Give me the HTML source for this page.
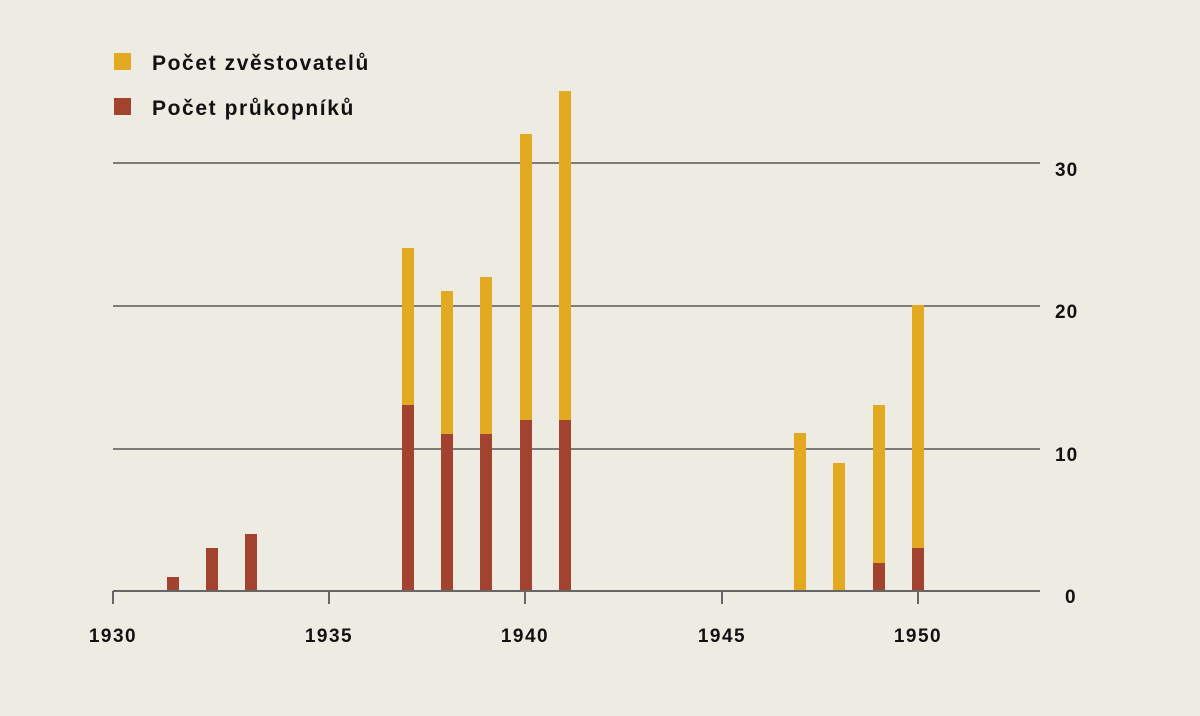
<!DOCTYPE html>
<html><head><meta charset="utf-8"><style>
html,body{margin:0;padding:0;background:#eeebe3;}
svg{display:block;font-family:"Liberation Sans",sans-serif;font-weight:bold;}
</style></head><body>
<svg width="1200" height="716" viewBox="0 0 1200 716">
<rect width="1200" height="716" fill="#eeebe3"/>
<g stroke="#3a3a3a" stroke-width="1.2">
<line x1="113" y1="163" x2="1040" y2="163"/>
<line x1="113" y1="306" x2="1040" y2="306"/>
<line x1="113" y1="449" x2="1040" y2="449"/>
</g>
<g fill="#e3a920">
<rect x="402" y="248" width="12" height="343"/>
<rect x="441" y="291" width="12" height="300"/>
<rect x="480" y="277" width="12" height="314"/>
<rect x="520" y="134" width="12" height="457"/>
<rect x="559" y="91" width="12" height="500"/>
<rect x="794" y="433" width="12" height="158"/>
<rect x="833" y="463" width="12" height="128"/>
<rect x="873" y="405" width="12" height="186"/>
<rect x="912" y="305" width="12" height="286"/>
</g>
<g fill="#a2432f">
<rect x="167" y="577" width="12" height="14"/>
<rect x="206" y="548" width="12" height="43"/>
<rect x="245" y="534" width="12" height="57"/>
<rect x="402" y="405" width="12" height="186"/>
<rect x="441" y="434" width="12" height="157"/>
<rect x="480" y="434" width="12" height="157"/>
<rect x="520" y="420" width="12" height="171"/>
<rect x="559" y="420" width="12" height="171"/>
<rect x="873" y="563" width="12" height="28"/>
<rect x="912" y="548" width="12" height="43"/>
</g>
<g stroke="#666" stroke-width="2">
<line x1="113" y1="591" x2="1040" y2="591"/>
<line x1="113" y1="591" x2="113" y2="604"/>
<line x1="329" y1="591" x2="329" y2="604"/>
<line x1="525" y1="591" x2="525" y2="604"/>
<line x1="722" y1="591" x2="722" y2="604"/>
<line x1="918" y1="591" x2="918" y2="604"/>
</g>
<g font-size="19" fill="#111" text-anchor="middle" letter-spacing="1.5">
<text x="113" y="642">1930</text>
<text x="329" y="642">1935</text>
<text x="525" y="642">1940</text>
<text x="722" y="642">1945</text>
<text x="918" y="642">1950</text>
</g>
<g font-size="19" fill="#111" text-anchor="start" letter-spacing="1">
<text x="1055" y="176">30</text>
<text x="1055" y="318">20</text>
<text x="1055" y="461">10</text>
<text x="1065" y="603">0</text>
</g>
<rect x="114" y="53" width="17" height="17" fill="#e3a920"/>
<rect x="114" y="98" width="17" height="17" fill="#a2432f"/>
<g font-size="21" fill="#111" letter-spacing="1.6">
<text x="152" y="70">Počet zvěstovatelů</text>
<text x="152" y="115">Počet průkopníků</text>
</g>
</svg>
</body></html>
